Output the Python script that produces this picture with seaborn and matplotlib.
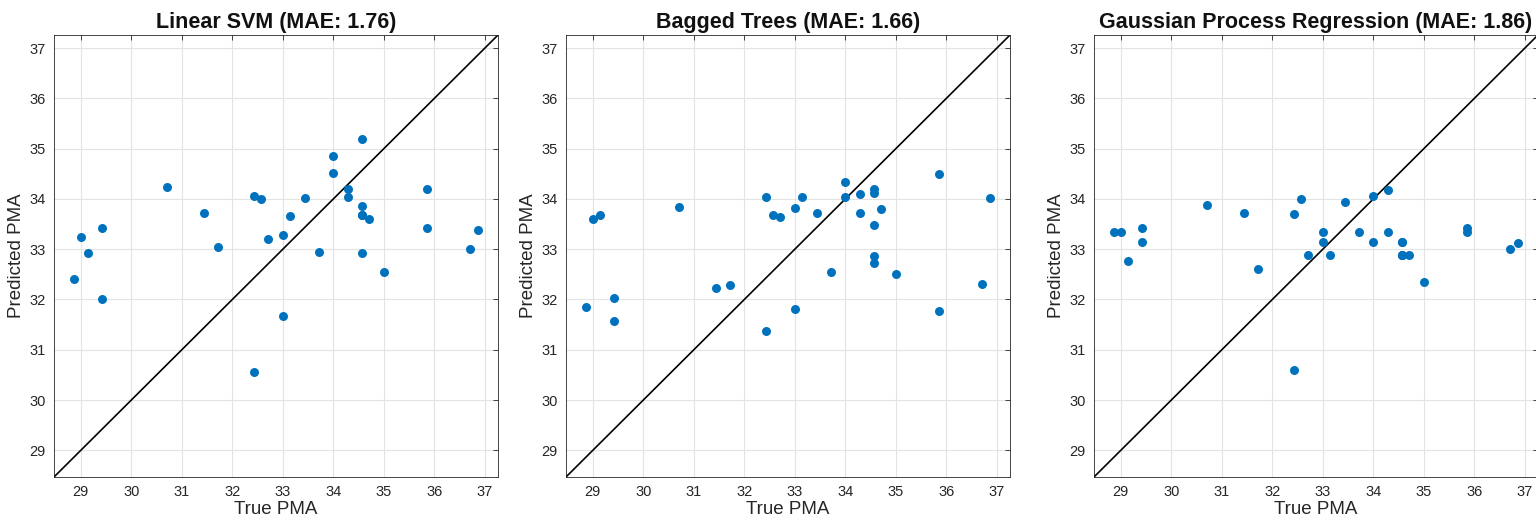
import matplotlib
matplotlib.use("Agg")
import matplotlib.pyplot as plt
import seaborn as sns
import pandas as pd

# Post-menstrual age (weeks) of each subject
true_pma = [28.86, 29.00, 29.14, 29.43, 29.43, 30.71, 31.43, 31.71, 32.43, 32.43,
            32.57, 32.71, 33.00, 33.00, 33.14, 33.43, 33.71, 34.00, 34.00, 34.29,
            34.29, 34.57, 34.57, 34.57, 34.57, 34.57, 34.71, 35.00, 35.86, 35.86,
            36.71, 36.86]

# Predictions of each regression model, same subject order as true_pma
pred_svm = [32.41, 33.25, 32.92, 33.43, 32.00, 34.24, 33.72, 33.05, 34.06, 30.55,
            34.00, 33.21, 33.28, 31.67, 33.67, 34.02, 32.94, 34.85, 34.51, 34.19,
            34.04, 35.19, 33.85, 33.69, 33.69, 32.92, 33.61, 32.54, 34.20, 33.43,
            33.00, 33.39]
pred_bagged = [31.86, 33.61, 33.68, 32.03, 31.58, 33.83, 32.22, 32.29, 34.04, 31.38,
               33.68, 33.65, 33.82, 31.82, 34.04, 33.72, 32.55, 34.34, 34.04, 34.10,
               33.73, 34.20, 34.12, 33.49, 32.86, 32.72, 33.80, 32.51, 34.50, 31.78,
               32.31, 34.01]
pred_gpr = [33.34, 33.34, 32.76, 33.43, 33.14, 33.87, 33.72, 32.61, 33.71, 30.59,
            34.00, 32.88, 33.34, 33.14, 32.88, 33.94, 33.34, 34.05, 33.14, 34.18,
            33.34, 33.14, 33.14, 32.88, 32.88, 32.88, 32.88, 32.35, 33.43, 33.34,
            33.00, 33.13]

model_names = ["Linear SVM", "Bagged Trees", "Gaussian Process Regression"]
model_mae = [1.76, 1.66, 1.86]
predictions = [pred_svm, pred_bagged, pred_gpr]

axis_ticks = [29, 30, 31, 32, 33, 34, 35, 36, 37]
axis_lim = (28.47, 37.26)

sns.set_style("white")
plt.rcParams["font.family"] = ["Liberation Sans", "DejaVu Sans"]

W, H = 1536, 524
fig = plt.figure(figsize=(W / 100, H / 100), dpi=100)

panel_left = [54, 566, 1094]
ax_w, ax_h = 444, 442
ax_bottom = 47

point_color = "#0072BD"
frame_color = "#262626"

for left, name, mae, pred in zip(panel_left, model_names, model_mae, predictions):
    ax = fig.add_axes([left / W, ax_bottom / H, ax_w / W, ax_h / H])
    df = pd.DataFrame({"True PMA": true_pma, "Predicted PMA": pred})
    sns.scatterplot(data=df, x="True PMA", y="Predicted PMA", ax=ax,
                    color=point_color, s=42, linewidth=0, zorder=3)
    # identity line across the full axis range
    sns.lineplot(x=list(axis_lim), y=list(axis_lim), ax=ax, color="black",
                 linewidth=1.2, zorder=2)
    ax.set_xlim(*axis_lim)
    ax.set_ylim(*axis_lim)
    ax.set_xticks(axis_ticks)
    ax.set_yticks(axis_ticks)
    ax.grid(True, color="#e3e3e3", linewidth=0.8, zorder=0)
    ax.set_axisbelow(True)
    ax.tick_params(direction="in", length=3.5, width=0.6, colors=frame_color,
                   top=True, right=True, labelsize=10.5, pad=6)
    for sp in ax.spines.values():
        sp.set_color(frame_color)
        sp.set_linewidth(0.6)
    ax.set_xlabel("True PMA", fontsize=13.5, color=frame_color, labelpad=1)
    ax.set_ylabel("Predicted PMA", fontsize=13.5, color=frame_color, labelpad=3)
    ax.set_title(f"{name} (MAE: {mae:.2f})", fontsize=15.5, fontweight="bold",
                 color="#111111", pad=5)

fig.savefig("out.png", dpi=100)
